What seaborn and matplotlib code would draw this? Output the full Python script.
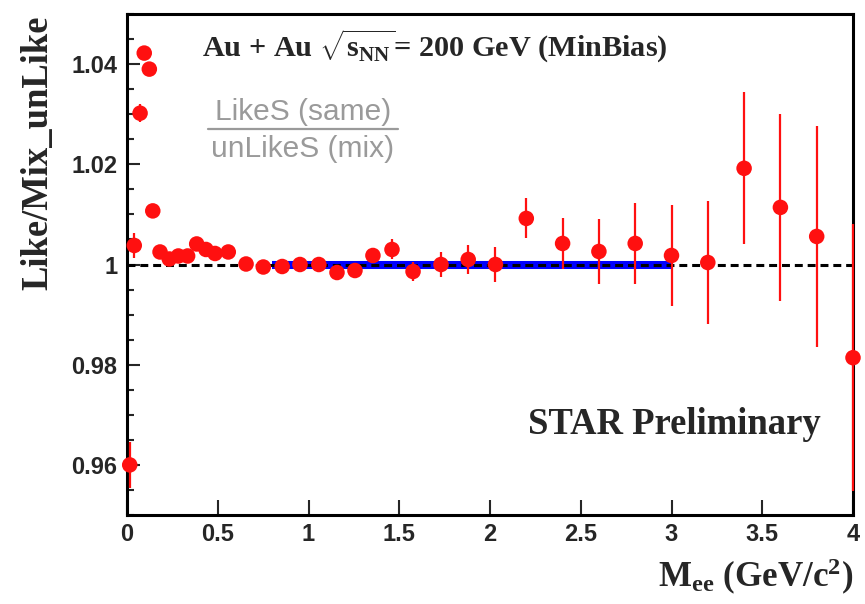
import numpy as np
import pandas as pd
import matplotlib
matplotlib.use("Agg")
import matplotlib.pyplot as plt
from matplotlib.lines import Line2D
from matplotlib.ticker import MultipleLocator
import seaborn as sns

# ---- data ----
mass = [0.015, 0.040, 0.072, 0.095, 0.123, 0.142, 0.182, 0.233, 0.283, 0.334,
        0.384, 0.435, 0.485, 0.558, 0.656, 0.751, 0.855, 0.953, 1.057, 1.157,
        1.256, 1.355, 1.460, 1.576, 1.730, 1.880, 2.030, 2.200, 2.400, 2.600,
        2.800, 3.000, 3.200, 3.400, 3.600, 3.800, 4.000]
ratio = [0.9600, 1.0038, 1.0302, 1.0422, 1.0390, 1.0107, 1.0025, 1.0011, 1.0017, 1.0017,
         1.0041, 1.0030, 1.0022, 1.0025, 1.0001, 0.9995, 0.9996, 1.0000, 1.0000, 0.9984,
         0.9988, 1.0018, 1.0030, 0.9986, 1.0000, 1.0010, 1.0000, 1.0092, 1.0042, 1.0026,
         1.0042, 1.0018, 1.0004, 1.0192, 1.0114, 1.0056, 0.9814]
ratio_err = [0.0046, 0.0025, 0.0018, 0.0012, 0.0012, 0.0010, 0.0008, 0.0008, 0.0008, 0.0008,
             0.0008, 0.0008, 0.0008, 0.0008, 0.0008, 0.0008, 0.0008, 0.0008, 0.0008, 0.0010,
             0.0010, 0.0012, 0.0020, 0.0018, 0.0025, 0.0028, 0.0035, 0.0040, 0.0050, 0.0065,
             0.0080, 0.0100, 0.0123, 0.0152, 0.0187, 0.0220, 0.0267]
fit_x = [0.8, 3.0]
fit_y = [1.0, 1.0]
reference_level = 1.0
x_ticks = [0, 0.5, 1, 1.5, 2, 2.5, 3, 3.5, 4]
x_tick_labels = ["0", "0.5", "1", "1.5", "2", "2.5", "3", "3.5", "4"]
y_ticks = [0.96, 0.98, 1.00, 1.02, 1.04]
y_tick_labels = ["0.96", "0.98", "1", "1.02", "1.04"]

df = pd.DataFrame({"mass": mass, "ratio": ratio, "err": ratio_err})
fit_df = pd.DataFrame({"x": fit_x, "y": fit_y})

sns.set_style("ticks")
plt.rcParams["font.family"] = ["Liberation Sans", "DejaVu Sans"]
plt.rcParams["mathtext.fontset"] = "custom"
plt.rcParams["mathtext.rm"] = "Liberation Serif:bold"
plt.rcParams["mathtext.it"] = "Liberation Serif:bold"
plt.rcParams["mathtext.bf"] = "Liberation Serif:bold"

fig = plt.figure(figsize=(8.65, 6.04), dpi=100)
ax = fig.add_axes([127/865, 1 - 515/604, 726/865, 501/604])

RED = "#ff1010"

# fit band (blue) and reference dashed line
sns.lineplot(data=fit_df, x="x", y="y", ax=ax, color="#0000ff", lw=5.8,
             solid_capstyle="butt", zorder=2)
ax.axhline(reference_level, color="black", lw=2.2, ls=(0, (2.6, 1.6)), zorder=3)

# error bars
ax.errorbar(df["mass"], df["ratio"], yerr=df["err"], fmt="none",
            ecolor=RED, elinewidth=1.6, capsize=0, zorder=4, clip_on=False)
# markers
sns.scatterplot(data=df, x="mass", y="ratio", ax=ax, color=RED, s=125,
                edgecolor="none", linewidth=0, zorder=5, clip_on=False)

ax.set_xlim(0, 4)
ax.set_ylim(0.95, 1.05)
ax.set_xticks(x_ticks)
ax.set_xticklabels(x_tick_labels)
ax.set_yticks(y_ticks)
ax.set_yticklabels(y_tick_labels)
ax.yaxis.set_minor_locator(MultipleLocator(0.005))
ax.set_xlabel("")
ax.set_ylabel("")

for sp in ax.spines.values():
    sp.set_visible(True)
    sp.set_linewidth(2.2)
    sp.set_color("black")

ax.tick_params(axis="x", which="major", direction="in", length=11, width=1.5,
               labelsize=17, pad=6, top=False)
ax.tick_params(axis="y", which="major", direction="in", length=9.5, width=1.5,
               labelsize=17, pad=7, right=False)
ax.tick_params(axis="y", which="minor", direction="in", length=5, width=1.5, right=False)
ax.tick_params(axis="x", which="minor", bottom=False, top=False)
for lab in ax.get_xticklabels() + ax.get_yticklabels():
    lab.set_fontweight("bold")

serif = ["Liberation Serif", "DejaVu Serif"]

fig.text(202/865, 1 - 57/604, r"Au + Au $\sqrt{\mathrm{s}_{\mathrm{NN}}}$= 200 GeV (MinBias)",
         family=serif, fontweight="bold", fontsize=21.8, ha="left", va="baseline")

fig.text(303/865, 1 - 120/604, "LikeS (same)", color="#9a9a9a", fontsize=21.5,
         ha="center", va="baseline")
fig.text(303/865, 1 - 157/604, "unLikeS (mix)", color="#9a9a9a", fontsize=21.5,
         ha="center", va="baseline")
fig.add_artist(Line2D([208/865, 398/865], [1 - 129/604, 1 - 129/604],
                      transform=fig.transFigure, color="#9a9a9a", lw=1.6))

fig.text(528/865, 1 - 434/604, "STAR Preliminary", family=serif, fontweight="bold",
         fontsize=26.4, ha="left", va="baseline")

fig.text(853/865, 1 - 587/604, r"M$_{\mathrm{ee}}$ (GeV/c$^{\mathrm{2}}$)", family=serif,
         fontweight="bold", fontsize=25.2, ha="right", va="baseline")

fig.text(38/865, 1 - 15/604, "Like/Mix_unLike", family=serif, fontweight="bold",
         fontsize=26.4, rotation=90, ha="center", va="top")

fig.savefig("out.png", dpi=100, facecolor="white")
